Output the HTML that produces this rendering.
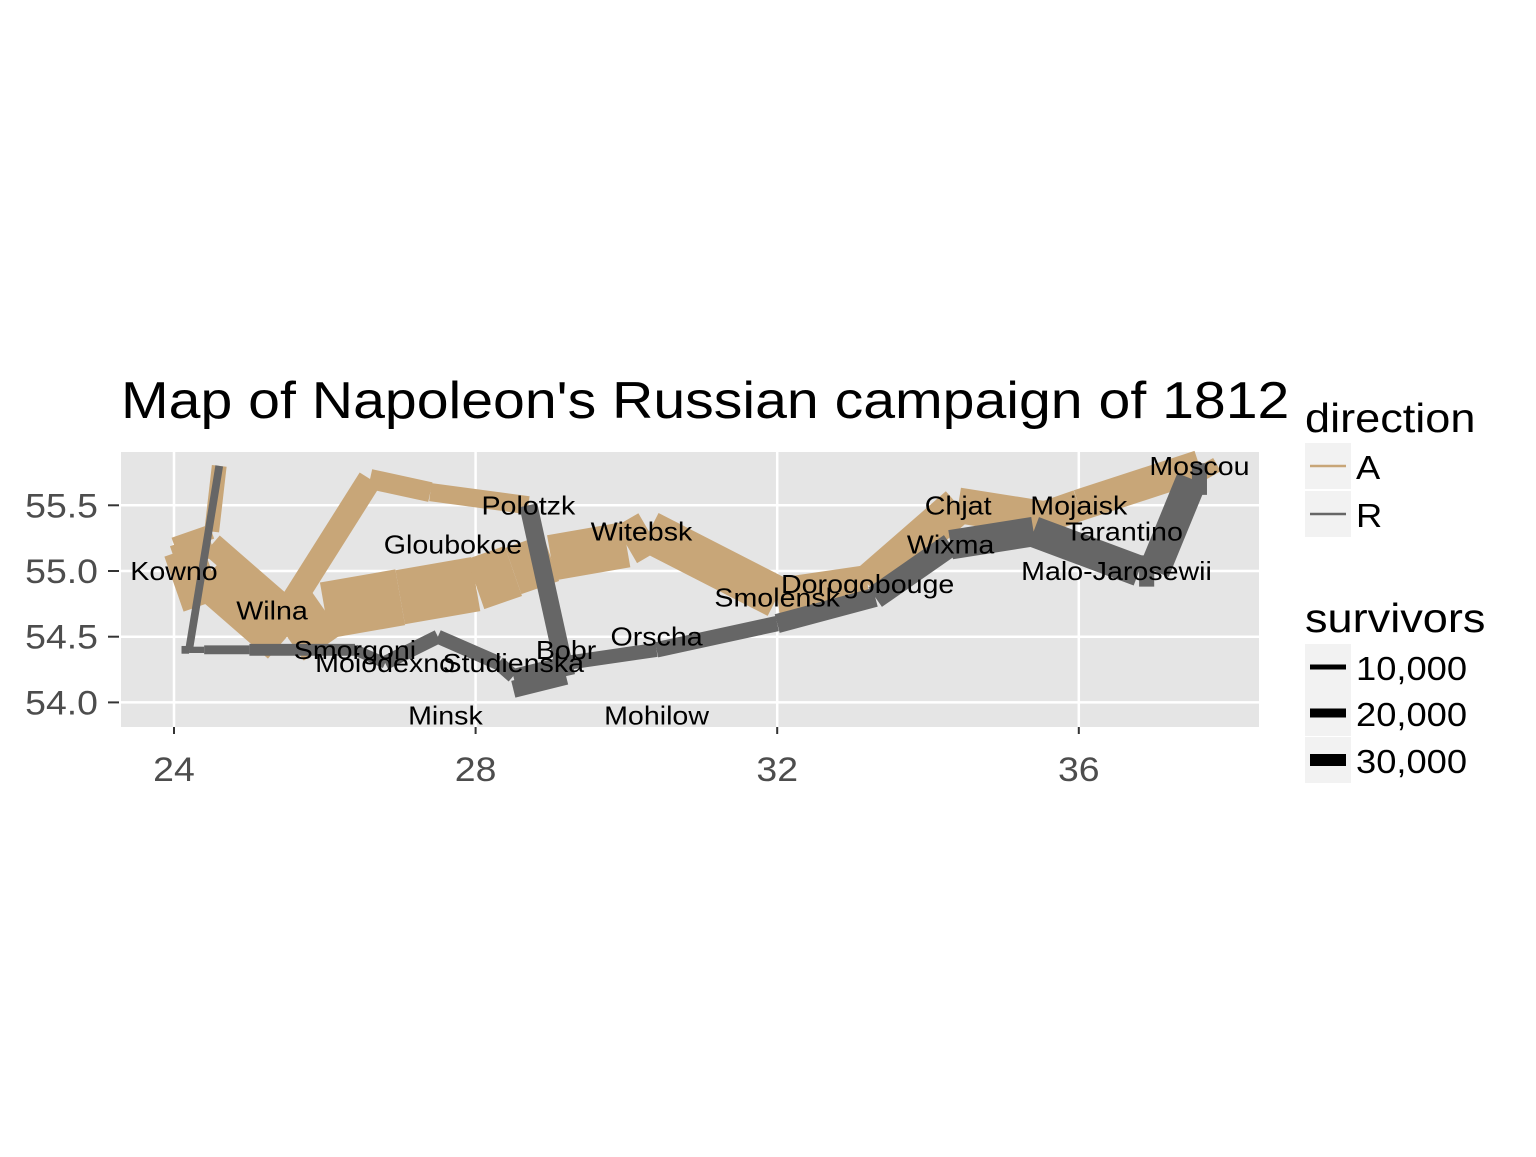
<!DOCTYPE html>
<html><head><meta charset="utf-8"><style>
body{margin:0;background:#fff;}
svg text{font-family:"Liberation Sans",sans-serif;}
</style></head><body>
<svg width="1536" height="1152" xmlns="http://www.w3.org/2000/svg">
<rect width="1536" height="1152" fill="#fff"/>
<text class="w" x="121" y="418" font-size="52" fill="#000">Map of Napoleon's Russian campaign of 1812</text>
<rect x="121" y="452" width="1138" height="275" fill="#e5e5e5"/>
<g id="grid"></g>
<g id="paths"></g>
<g id="cities"></g>
<g id="axes"></g>
<g>
<text class="w" x="1305" y="432" font-size="41">direction</text>
<rect x="1305" y="443" width="46" height="46" fill="#f2f2f2"/>
<line x1="1310" y1="466" x2="1346" y2="466" stroke="#c8a678" stroke-width="2.5"/>
<text class="w" x="1356" y="479" font-size="33">A</text>
<rect x="1305" y="491" width="46" height="46" fill="#f2f2f2"/>
<line x1="1310" y1="514" x2="1346" y2="514" stroke="#666" stroke-width="2.5"/>
<text class="w" x="1356" y="527" font-size="33">R</text>
</g>
<g>
<text class="w" x="1305" y="632" font-size="41">survivors</text>
<rect x="1305" y="644" width="46" height="46" fill="#f2f2f2"/>
<line x1="1310" y1="667" x2="1346" y2="667" stroke="#000" stroke-width="5"/>
<text class="w" x="1356" y="680" font-size="33">10,000</text>
<rect x="1305" y="690" width="46" height="46" fill="#f2f2f2"/>
<line x1="1310" y1="713" x2="1346" y2="713" stroke="#000" stroke-width="9"/>
<text class="w" x="1356" y="726" font-size="33">20,000</text>
<rect x="1305" y="737" width="46" height="46" fill="#f2f2f2"/>
<line x1="1310" y1="760" x2="1346" y2="760" stroke="#000" stroke-width="12"/>
<text class="w" x="1356" y="773" font-size="33">30,000</text>
</g>
</svg>
<script>
const longs1=[24.0,24.5,25.5,26.0,27.0,28.0,28.5,29.0,30.0,30.3,32.0,33.2,34.4,35.5,36.0,37.6,37.7,37.5,37.0,36.8,35.4,34.3,33.3,32.0,30.4,29.2,28.5,28.3,27.5,26.8,26.4,25.0,24.4,24.2,24.1];
const lats1=[54.9,55.0,54.5,54.7,54.8,54.9,55.0,55.1,55.2,55.3,54.8,54.9,55.5,55.4,55.5,55.8,55.7,55.7,55.0,55.0,55.3,55.2,54.8,54.6,54.4,54.3,54.2,54.3,54.5,54.3,54.4,54.4,54.4,54.4,54.4];
const surv1=[340000,340000,340000,320000,300000,280000,240000,210000,180000,175000,145000,140000,127100,100000,100000,100000,100000,98000,97000,96000,87000,55000,37000,24000,20000,20000,20000,20000,20000,12000,14000,8000,4000,4000,4000];
const dir1="AAAAAAAAAAAAAAAARRRRRRRRRRRRRRRRRRR";
const longs2=[24.0,24.5,25.5,26.6,27.4,28.7,29.2,28.5];
const lats2=[55.1,55.2,54.7,55.7,55.6,55.5,54.2,54.1];
const surv2=[60000,60000,60000,40000,33000,33000,30000,30000];
const dir2="AAAAARRR";
const longs3=[24.0,24.5,24.6,24.6,24.2,24.1];
const lats3=[55.2,55.3,55.8,55.8,54.4,54.4];
const surv3=[22000,22000,6000,6000,6000,6000];
const dir3="AAARRR";
const cityNames=["Kowno","Wilna","Smorgoni","Moiodexno","Gloubokoe","Minsk","Studienska","Polotzk","Bobr","Witebsk","Orscha","Mohilow","Smolensk","Dorogobouge","Wixma","Chjat","Mojaisk","Moscou","Tarantino","Malo-Jarosewii"];
const cityLong=[24.0,25.3,26.4,26.8,27.7,27.6,28.5,28.7,29.2,30.2,30.4,30.4,32.0,33.2,34.3,34.4,36.0,37.6,36.6,36.5];
const cityLat=[55.0,54.7,54.4,54.3,55.2,53.9,54.3,55.5,54.4,55.3,54.5,53.9,54.8,54.9,55.2,55.5,55.5,55.8,55.3,55.0];
const xTicks=[24,28,32,36];
const yTicks=[54.0,54.5,55.0,55.5];
const xTickLabels=["24","28","32","36"];
const yTickLabels=["54.0","54.5","55.0","55.5"];

const NS="http://www.w3.org/2000/svg";
const X=v=>174+(v-24)*75.4;
const Y=v=>571-(v-55)*131.4;
const W=s=>0.1*Math.sqrt(s);
function mk(tag,attrs,parent){const e=document.createElementNS(NS,tag);for(const k in attrs)e.setAttribute(k,attrs[k]);parent.appendChild(e);return e;}
const grid=document.getElementById('grid');
xTicks.forEach(t=>{const l=mk('line',{x1:X(t),x2:X(t),y1:452,y2:727,stroke:'#fff','stroke-width':2.5},grid);

});
yTicks.forEach(t=>{const l=mk('line',{x1:121,x2:1259,y1:Y(t),y2:Y(t),stroke:'#fff','stroke-width':2.5},grid);

});
const paths=document.getElementById('paths');
[[longs1,lats1,surv1,dir1],[longs2,lats2,surv2,dir2],[longs3,lats3,surv3,dir3]].forEach((g,gi)=>{
 const [lo,la,sv,dr]=g;
 for(let i=0;i<lo.length-1;i++){
  const l=mk('line',{x1:X(lo[i]),y1:Y(la[i]),x2:X(lo[i+1]),y2:Y(la[i+1]),stroke:dr[i]==='A'?'#c8a678':'#666','stroke-width':W(sv[i]),'stroke-linecap':'butt'},paths);
  
  
 }
});
const cities=document.getElementById('cities');
cityNames.forEach((n,i)=>{const t=mk('text',{class:'w',x:X(cityLong[i]),y:Y(cityLat[i])+9,'font-size':26,'text-anchor':'middle',fill:'#000'},cities);t.textContent=n;

});
const axes=document.getElementById('axes');
xTicks.forEach((t,i)=>{mk('line',{x1:X(t),x2:X(t),y1:727,y2:734,stroke:'#333','stroke-width':2},axes);
const tx=mk('text',{class:'w',x:X(t),y:781,'font-size':34,'text-anchor':'middle',fill:'#4d4d4d'},axes);tx.textContent=xTickLabels[i];

});
yTicks.forEach((t,i)=>{mk('line',{x1:108,x2:119,y1:Y(t),y2:Y(t),stroke:'#333','stroke-width':2},axes);
const tx=mk('text',{class:'w',x:98,y:Y(t)+12,'font-size':34,'text-anchor':'end',fill:'#4d4d4d'},axes);tx.textContent=yTickLabels[i];

});
document.querySelectorAll('text.w').forEach(t=>{const L=t.getComputedTextLength();t.setAttribute('textLength',L*1.1);t.setAttribute('lengthAdjust','spacingAndGlyphs');});
</script>
</body></html>
